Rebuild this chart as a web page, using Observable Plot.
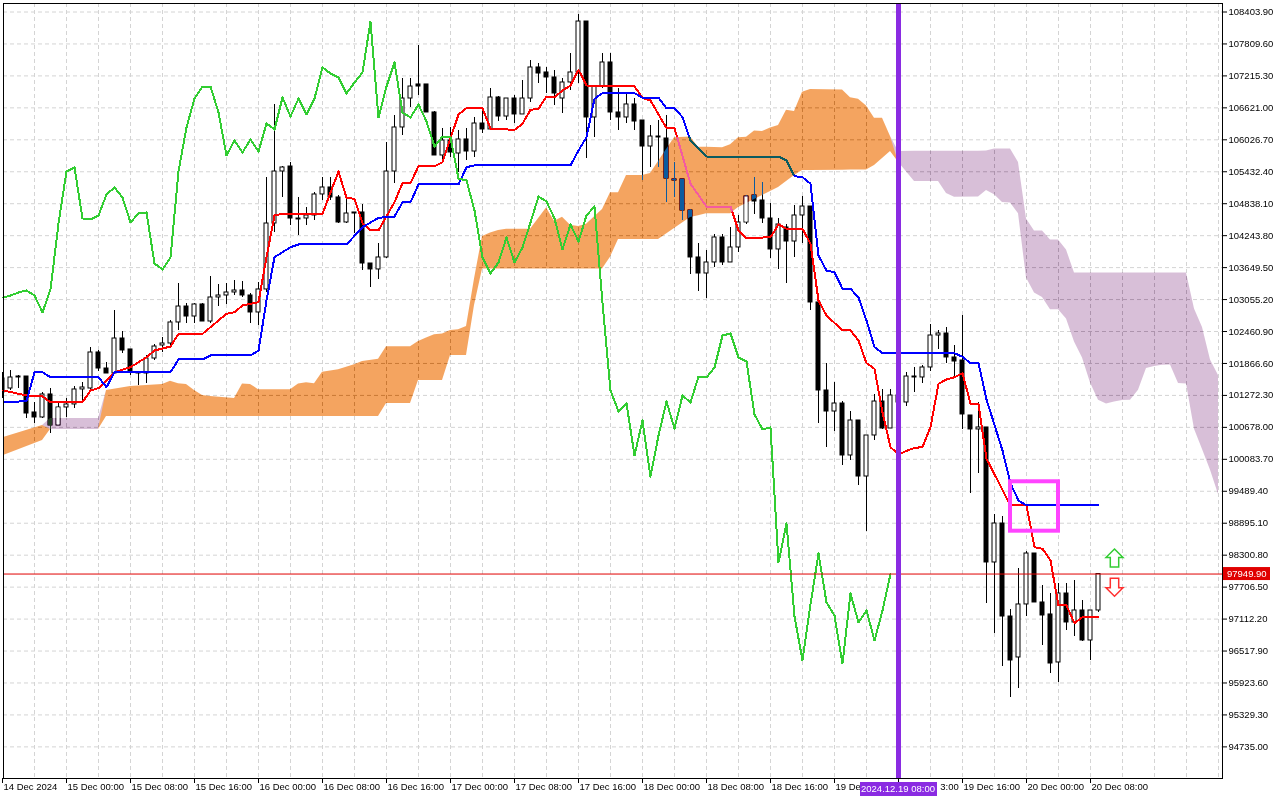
<!DOCTYPE html>
<html><head><meta charset="utf-8">
<script src="https://cdn.jsdelivr.net/npm/d3@7"></script>
<script src="https://cdn.jsdelivr.net/npm/@observablehq/plot@0.6"></script>
<style>body{margin:0;background:#fff}</style>
</head><body><div id="chart"></div>
<script>
// ---- Hourly candles (index 0 = 14 Dec 2024 16:00) ----
const opens = [101327,101401,101624,101624,100955,100862,101290,100713,101048,101104,
101383,101401,102071,101773,101680,102331,102127,101680,101680,101959,
102201,102238,102629,102926,102740,102964,102647,103094,103131,103187,
103224,103131,102815,103243,104470,105437,105530,104563,104563,104619,
105010,105140,104954,104489,104656,104675,103726,103615,103838,105437,
106256,106795,107056,107056,106535,105735,106014,105772,106033,105809,
106330,106219,106814,106460,106795,106498,106795,107372,107279,107186,
106795,107093,107279,108227,106442,107018,107465,106535,106442,106684,
106386,105902,106088,106051,105289,105289,104712,103838,103540,103745,
104210,103745,104024,104489,104991,104898,104563,103987,104396,104135,
104619,104786,103001,101364,100973,101122,100155,100806,99764,100527,
101159,100657,101271,101141,101624,101606,101792,102387,102424,101978,
101922,100899,100639,100676,98165,98890,97160,96398,97384,98332,
97421,97198,96305,97588,97049,97272,96714,97272];
const highs = [101699,101736,101643,101624,101141,101327,101401,101122,101215,101438,
101513,102164,102108,101885,102852,102461,102127,101717,102015,102220,
102350,102666,103354,102982,102982,102982,103484,103336,103354,103410,
103391,103168,103373,105326,106684,105530,105605,104954,104768,105047,
105326,105326,104991,104935,104675,104824,103726,104098,105977,106479,
107167,107167,107781,107056,106553,106237,106256,106200,106237,106442,
106572,106981,106832,106795,106851,107130,107502,107446,107372,107316,
107167,107632,108358,108227,107037,107632,107632,106981,106888,106795,
106386,106293,106386,106479,105605,105289,104731,104098,103968,104266,
104266,104396,104619,104991,105326,105233,104842,104563,104452,104805,
104972,104786,103001,101866,101513,101159,100973,100806,100527,101290,
101383,101383,101327,101699,101792,101829,102592,102480,102536,102201,
102759,100899,101141,100676,99058,99020,97291,98053,98369,98332,
97737,97588,97774,97774,97830,97458,97272,97949.9];
const lows = [101215,101364,101401,100843,100750,100843,100564,100713,100862,101029,
101178,101364,101717,101680,101680,102052,101643,101457,101494,101922,
102071,102201,102480,102610,102610,102647,102610,102926,102964,103131,
103094,102610,102573,103187,104303,104954,104433,104247,104433,104526,
104898,104898,104470,104470,104284,103596,103280,103429,103819,105214,
106107,106628,106851,106535,105735,105605,105698,105419,105642,105698,
106144,106200,106367,106386,106330,106498,106721,107074,106888,106665,
106516,106944,107074,105679,106070,106981,106386,106200,106330,106200,
105270,105512,105512,104861,104954,104526,103522,103205,103075,103652,
103689,103745,103931,104452,104638,104470,103819,103615,103354,103838,
104098,102852,100750,100304,100601,99969,100062,99597,98741,100434,
100639,100657,100620,101066,101327,101494,101717,102127,101866,101606,
100639,99448,99820,97402,96844,96230,95654,95821,97160,97421,
96621,96100,95933,96900,96788,96695,96342,97235];
const closes = [101587,101606,101606,100936,100862,101290,100713,101048,101104,101383,
101420,102071,101773,101680,102331,102108,101717,101699,101959,102182,
102238,102629,102926,102740,102964,102647,103094,103131,103187,103224,
103131,102815,103243,104470,105437,105512,104563,104545,104619,105010,
105140,104954,104489,104656,104675,103726,103615,103838,105437,106256,
106795,107018,107018,106535,105735,106014,105791,106033,105809,106330,
106219,106814,106460,106795,106498,106795,107372,107260,107186,106888,
107093,107279,108227,106442,107018,107465,106535,106442,106684,106367,
105902,106088,106070,105307,105270,104712,103838,103540,103745,104210,
103745,104024,104489,104972,104879,104563,103987,104452,104135,104619,
104786,103001,101364,100973,101122,100155,100806,99764,100527,101159,
100657,101271,101141,101624,101606,101792,102387,102424,101978,101903,
100918,100639,100676,98165,98890,97160,96342,97384,98332,97421,
97179,96286,97588,97049,97272,96714,97272,97949.9];

// ---- Tenkan-sen (red) ----
const tenkanIdx = [0,3,5,6,10,11,12,14,16,18,19,21,22,25,27,28,29,30,31,32,33,34,35,40,42,43,44,45,46,47,49,50,51,52,54,55,57,58,60,61,64,65,66,67,68,69,70,71,72,73,79,80,81,83,84,86,88,91,92,93,96,97,98,100,101,102,103,105,106,107,108,109,110,111,112,113,114,115,116,117,118,119,120,121,122,123,126,128,129,130,131,132,133,134,135,137];
const tenkanVal = [101364,101271,101252,101146,101146,101364,101407,101704,101797,101983,102108,102182,102418,102418,102666,102791,102820,102945,102977,103006,103843,104619,104651,104651,105437,104948,104930,104476,104340,104340,104866,105220,105220,105536,105536,105610,106498,106615,106615,106232,106213,106325,106585,106604,106832,106819,106944,107037,107329,107037,107018,106808,106758,106243,106243,105209,104786,104786,104340,104197,104215,104452,104372,104372,104093,103038,102759,102480,102480,102294,101872,101768,100955,100309,100174,100239,100298,100309,100682,101489,101569,101611,101686,101117,101104,100094,99225,99225,98450,98420,98202,97365,97365,97036,97147,97147];

// ---- Kijun-sen (blue) ----
const kijunIdx = [0,3,4,5,6,12,13,14,21,22,25,26,31,32,33,34,36,37,43,45,47,49,50,51,52,57,58,59,71,72,73,74,75,79,80,82,83,84,85,86,88,97,98,99,100,101,102,103,104,105,106,107,108,109,110,119,120,121,122,123,125,126,127,128,137];
const kijunVal = [101146,101165,101704,101704,101611,101611,101425,101704,101704,101941,101941,102015,102015,102108,103038,103843,104029,104080,104080,104401,104576,104600,104866,104866,105196,105196,105518,105549,105549,105828,106075,106790,106894,106894,106808,106808,106615,106615,106447,106014,105716,105716,105642,105350,105331,105209,103875,103596,103564,103256,103256,103094,102666,102169,102058,102058,101991,101872,101872,101197,100248,99634,99318,99225,99225];

// ---- Kumo: Senkou Span A / B ----
const cloudK = [0,5,6,12,13,16,20,21,22,23,24,25,26,29,30,31,32,36,37,38,39,40,42,44,45,47,48,51,52,53,54,55,56,57,58,59,60,61,62,63,66,68,69,70,71,72,73,75,76,77,78,80,81,82,83,84,86,87,88,90,91,92,93,94,95,96,97,98,99,100,101,105,106,107,108,109,110,111,112,114,117,118,119,122,123,124,125,126,127,128,129,130,131,132,133,134,135,136,137,138,139,140,141,142,143,144,145,146,147,148,149,150,151,152];
const spanA = [100490,100713,100639,100639,
101364,101438,101476,101537,101489,101476,101364,101271,101254,101217,101483,101477,101379,101379,101487,101509,101490,101704,101751,101844,101905,101943,
102179,102179,102277,102340,102402,102417,102480,102495,102556,103440,
104230,104294,104340,104364,104364,104759,104513,104584,104439,104414,104457,104732,
105043,105043,105365,105365,105402,105623,105847,106066,
106081,105889,105886,105880,105936,106066,106075,106191,106183,106247,106293,106578,106555,106911,106963,
106955,106808,106782,106654,106429,106429,106087,105610,
105251,105251,105028,104956,104965,105084,105006,104861,104852,104651,103457,103178,103092,102867,102867,102694,
102268,101969,101505,101184,101115,101148,101178,101184,101370,101773,101812,101835,101838,101494,101487,
100644,100267,99880,99430];
const spanB = [100155,100434,100843,100843,
100880,100880,100880,100880,100880,100880,100880,100880,100880,100880,100880,100880,100880,100880,100880,100880,100880,100880,100880,100880,100880,100880,
101122,101122,101550,101550,101550,101550,102015,102015,102015,102945,
103624,103624,103624,103624,103624,103624,103624,103624,103624,103624,103624,103624,
103843,104173,104173,104173,104173,104173,104275,104377,
104582,104615,104651,104651,104651,104768,104842,104917,104991,105065,105140,105251,105363,105456,105456,
105461,105465,105465,105465,105549,105679,105809,105809,
105813,105813,105813,105813,105813,105819,105856,105856,105856,105605,104554,104331,104331,104163,104163,103977,
103550,103550,103550,103550,103550,103550,103550,103550,103550,103550,103550,103550,103550,103550,103550,
102880,102536,101931,101643];

// ---- Axis ticks / labels (as seen on the chart) ----
const yTicks = [108403.9,107809.6,107215.3,106621.0,106026.7,105432.4,104838.1,104243.8,103649.5,103055.2,102460.9,101866.6,101272.3,100678.0,100083.7,99489.4,98895.1,98300.8,97706.5,97112.2,96517.9,95923.6,95329.3,94735.0];
const xTickIdx = [0,8,16,24,32,40,48,56,64,72,80,88,96,104,112,120,128,136];
const xLabelIdx = [0,8,16,24,32,40,48,56,64,72,80,88,96,104,117.1,120,128,136];
const xLabelText = ["14 Dec 2024","15 Dec 00:00","15 Dec 08:00","15 Dec 16:00","16 Dec 00:00","16 Dec 08:00","16 Dec 16:00","17 Dec 00:00","17 Dec 08:00","17 Dec 16:00","18 Dec 00:00","18 Dec 08:00","18 Dec 16:00","19 De","3:00","19 Dec 16:00","20 Dec 00:00","20 Dec 08:00"];
const gridIdx = [4,8,12,16,20,24,28,32,36,40,44,48,52,56,60,64,68,72,76,80,84,88,92,96,100,104,108,112,116,120,124,128,132,136,140,144,148,152];

// ---- Annotations ----
const lastPrice = 97949.9;
const markerIdx = 112;            // vertical line 2024.12.19 08:00
const markerLabel = "2024.12.19 08:00";
const boxIdx = [126, 132];
const boxPrice = [99666, 98747];
const arrowIdx = 139;
const arrowUpPrice = 98248;
const arrowDownPrice = 97705;

// ---- build tables ----
const candles = opens.map((o, i) => ({i, o, h: highs[i], l: lows[i], c: closes[i], up: closes[i] >= opens[i]}));
const tenkan = tenkanIdx.map((i, j) => ({i, v: tenkanVal[j]}));
const kijun = kijunIdx.map((i, j) => ({i, v: kijunVal[j]}));
const chikou = closes.slice(26).map((v, j) => ({i: j, v}));   // close shifted back 26 bars
const cloud = cloudK.map((k, j) => ({k, a: spanA[j], b: spanB[j]}));
const xLabels = xLabelIdx.map((i, j) => ({i, t: xLabelText[j]}));

function cloudBand(i) {
  for (let j = 0; j < cloudK.length - 1; j++) {
    if (i >= cloudK[j] && i <= cloudK[j + 1]) {
      const t = (i - cloudK[j]) / (cloudK[j + 1] - cloudK[j]);
      const a = spanA[j] + t * (spanA[j + 1] - spanA[j]);
      const b = spanB[j] + t * (spanB[j + 1] - spanB[j]);
      return [Math.min(a, b), Math.max(a, b)];
    }
  }
  return null;
}
const bullsInCloud = candles.filter(d => {
  if (!d.up || d.c - d.o < 40) return false;
  const band = cloudBand(d.i);
  return band && d.c > band[0] && d.o < band[1];
});

const upArrow = {draw(ctx) {
  ctx.moveTo(0, -9); ctx.lineTo(8.5, -0.5); ctx.lineTo(4.2, -0.5); ctx.lineTo(4.2, 9);
  ctx.lineTo(-4.2, 9); ctx.lineTo(-4.2, -0.5); ctx.lineTo(-8.5, -0.5); ctx.closePath();
}};
const downArrow = {draw(ctx) {
  ctx.moveTo(0, 9); ctx.lineTo(8.5, 0.5); ctx.lineTo(4.2, 0.5); ctx.lineTo(4.2, -9);
  ctx.lineTo(-4.2, -9); ctx.lineTo(-4.2, 0.5); ctx.lineTo(-8.5, 0.5); ctx.closePath();
}};

const FONT = "'Liberation Sans',Arial,sans-serif";
const FS = 9.5;
const gridStyle = {stroke: "#d4d4d4", strokeDasharray: "4,3", strokeWidth: 1};
const lineStyle = {strokeWidth: 2, shapeRendering: "crispEdges"};

const plot = Plot.plot({
  width: 1280, height: 800,
  marginLeft: 3, marginRight: 58, marginTop: 3, marginBottom: 22,
  style: {fontFamily: FONT, fontSize: FS + "px", color: "black", background: "white", overflow: "visible"},
  color: {type: "identity"},
  x: {domain: [0.125, 152.5], axis: "bottom", ticks: xTickIdx, tickFormat: () => "", tickSize: 5, label: null},
  y: {domain: [94147, 108562], axis: "right", ticks: yTicks, tickFormat: d => d.toFixed(2), tickSize: 4, tickPadding: 2, label: null},
  marks: [
    Plot.frame({fill: "white"}),
    Plot.ruleY(yTicks, gridStyle),
    Plot.ruleX(gridIdx, gridStyle),
    // candles
    Plot.ruleX(candles, {x: "i", y1: "l", y2: "h", stroke: "black", strokeWidth: 1, shapeRendering: "crispEdges"}),
    Plot.rect(candles, {x1: d => Math.max(0.125, d.i - 0.25), x2: d => d.i + 0.25, y1: "o", y2: "c",
      fill: d => d.up ? "white" : "black", stroke: "black", strokeWidth: 1}),
    // tenkan / kijun
    Plot.line(tenkan, {x: d => Math.max(0.125, d.i), y: "v", stroke: "#ff0000", ...lineStyle}),
    Plot.line(kijun, {x: d => Math.max(0.125, d.i), y: "v", stroke: "#0000ff", ...lineStyle}),
    // kumo (XOR-like drawing over what is below)
    Plot.areaY(cloud, {x: d => Math.max(0.125, d.k), y1: "a", y2: d => d.a >= d.b ? d.b : d.a, fill: "#0b5b9f", mixBlendMode: "difference"}),
    Plot.areaY(cloud, {x: d => Math.max(0.125, d.k), y1: "a", y2: d => d.b > d.a ? d.b : d.a, fill: "#274027", mixBlendMode: "difference"}),
    Plot.rect(bullsInCloud, {x1: d => d.i - 0.25, x2: d => d.i + 0.25, y1: "o", y2: "c", fill: "white", inset: 0.5}),
    // chikou
    Plot.line(chikou, {x: d => Math.max(0.125, d.i), y: "v", stroke: "#32cd32", ...lineStyle}),
    // current price
    Plot.ruleY([lastPrice], {stroke: "#e00000", strokeWidth: 1}),
    // vertical marker
    Plot.ruleX([markerIdx], {stroke: "#8a2be2", strokeWidth: 5}),
    // box
    Plot.rect([0], {x1: () => boxIdx[0], x2: () => boxIdx[1], y1: () => boxPrice[0], y2: () => boxPrice[1],
      fill: "none", stroke: "#ff44ff", strokeWidth: 4}),
    // arrows
    Plot.dot([arrowUpPrice], {x: () => arrowIdx, y: d => d, symbol: upArrow, fill: "white", stroke: "#33cc33", strokeWidth: 1.5}),
    Plot.dot([arrowDownPrice], {x: () => arrowIdx, y: d => d, symbol: downArrow, fill: "white", stroke: "#ff3030", strokeWidth: 1.5}),
    // x labels
    Plot.text(xLabels, {x: "i", text: "t", frameAnchor: "bottom", dy: 11, dx: 1, textAnchor: "start", fill: "black", fontSize: FS}),
    Plot.frame({stroke: "black", strokeWidth: 1})
  ]
});

// tags on the axes
const sx = plot.scale("x"), sy = plot.scale("y");
const svg = d3.select(plot);
const cx = sx.apply(markerIdx);
svg.append("rect").attr("x", cx - 38).attr("y", 782).attr("width", 77).attr("height", 14).attr("fill", "#8a2be2");
svg.append("text").attr("x", cx).attr("y", 789).attr("dy", "0.35em").attr("text-anchor", "middle")
  .attr("fill", "white").attr("font-family", FONT).attr("font-size", FS).text(markerLabel);
const py = sy.apply(lastPrice);
svg.append("rect").attr("x", 1223).attr("y", py - 6.5).attr("width", 47).attr("height", 13).attr("fill", "#e00000");
svg.append("text").attr("x", 1227).attr("y", py).attr("dy", "0.35em").attr("text-anchor", "start").attr("fill", "white")
  .attr("font-family", FONT).attr("font-size", FS).text(lastPrice.toFixed(2));

document.getElementById("chart").appendChild(plot);
</script>
</body></html>
